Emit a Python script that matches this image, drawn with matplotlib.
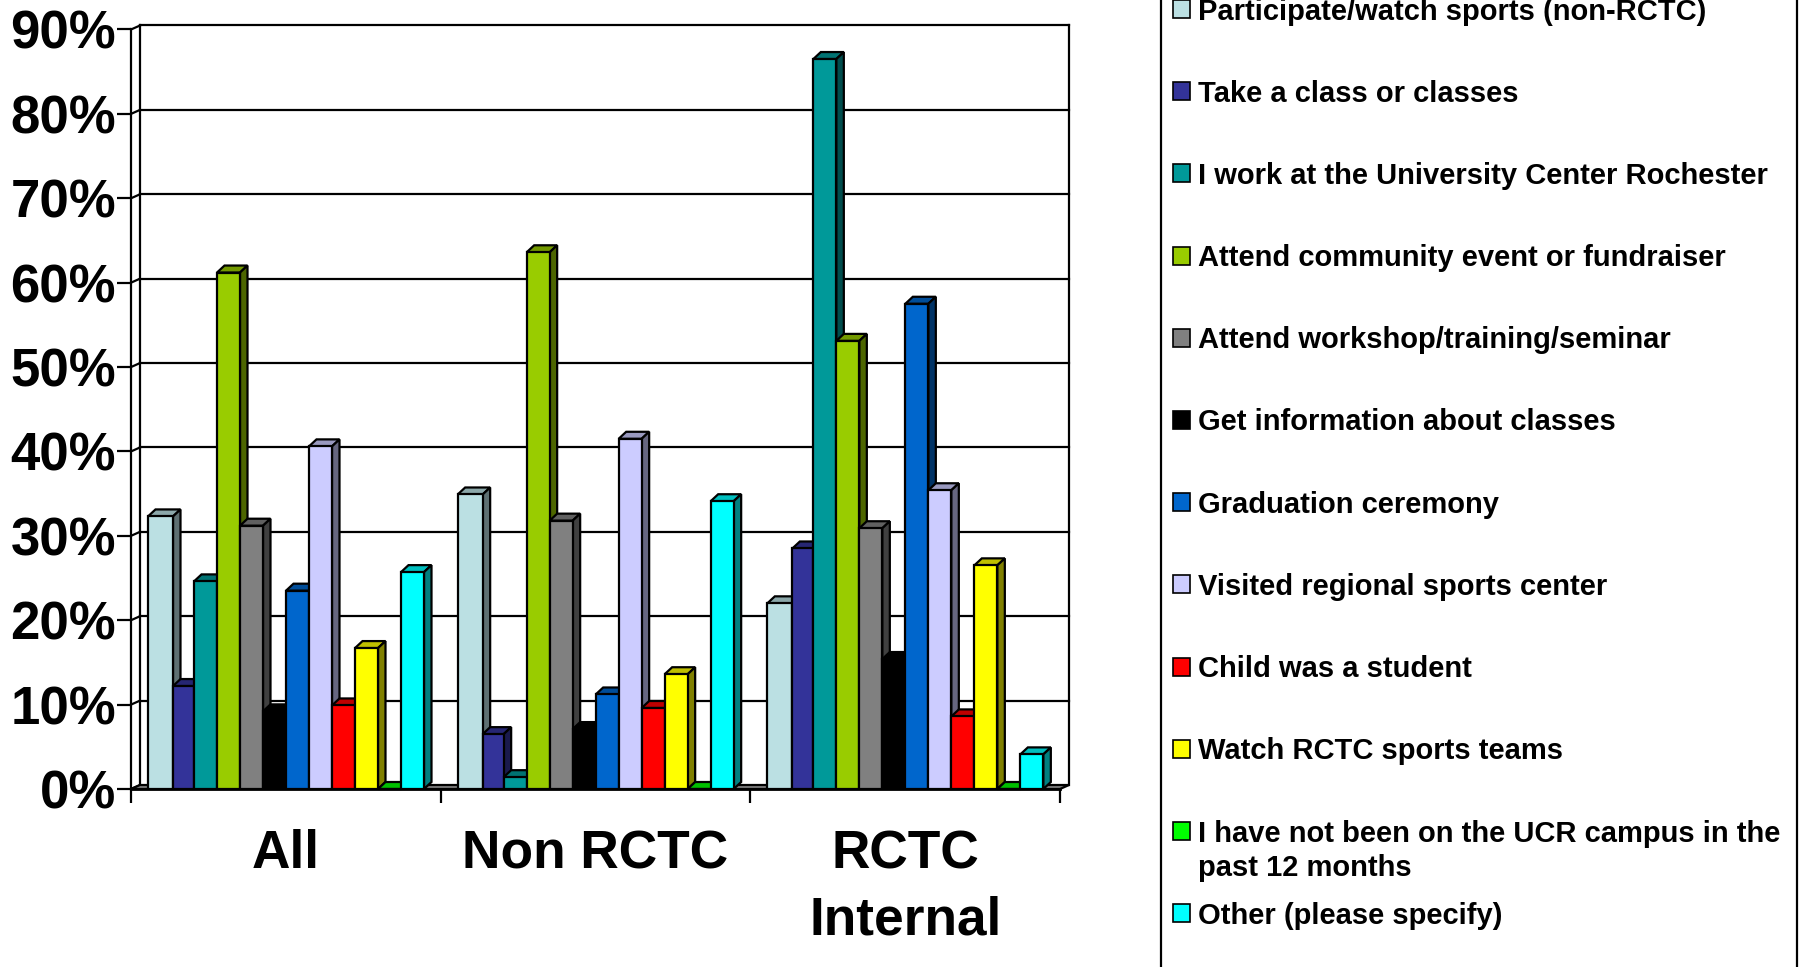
# -*- coding: utf-8 -*-
import numpy as np
import matplotlib
matplotlib.use('Agg')
import matplotlib.pyplot as plt
from matplotlib.patches import Polygon, Rectangle
from matplotlib.colors import to_rgb

plt.rcParams['font.family'] = ['Liberation Sans', 'DejaVu Sans']
plt.rcParams['font.weight'] = 'bold'

groups = ['All', 'Non RCTC', 'RCTC\nInternal']
series = ['Participate/watch sports (non-RCTC)',
          'Take a class or classes',
          'I work at the University Center Rochester',
          'Attend community event or fundraiser',
          'Attend workshop/training/seminar',
          'Get information about classes',
          'Graduation ceremony',
          'Visited regional sports center',
          'Child was a student',
          'Watch RCTC sports teams',
          'I have not been on the UCR campus in the\npast 12 months',
          'Other (please specify)']
colors = ['#BBE0E3', '#333399', '#009999', '#99CC00', '#808080', '#000000',
          '#0066CC', '#CCCCFF', '#FF0000', '#FFFF00', '#00FF00', '#00FFFF']

vals_all = [32.3, 12.2, 24.6, 61.2, 31.2, 9.2, 23.5, 40.6, 9.9, 16.7, 0, 25.7]
vals_non = [34.9, 6.5, 1.4, 63.6, 31.8, 7.1, 11.2, 41.5, 9.6, 13.6, 0, 34.1]
vals_int = [22.0, 28.5, 86.5, 53.1, 30.9, 15.4, 57.5, 35.4, 8.6, 26.5, 0, 4.1]
table = [vals_all, vals_non, vals_int]

y_ticks = [0, 10, 20, 30, 40, 50, 60, 70, 80, 90]
y_labels = ['0%', '10%', '20%', '30%', '40%', '50%', '60%', '70%', '80%', '90%']

W, H = 1811, 967
fig = plt.figure(figsize=(W / 100, H / 100), dpi=100)

# plot area in pixels: front wall 131..1060, 0% at 789, 90% at 29.5
ax = fig.add_axes([131 / W, 1 - 789 / H, (1060 - 131) / W, (789 - 29.5) / H])
ax.set_xlim(0, 3)
ax.set_ylim(0, 90)
ppx = 3 / (1060 - 131)      # data units per pixel in x
ppy = 90 / (789 - 29.5)     # and in y

lw = 1.6
wall_dx, wall_dy = 9 * ppx, 4 * ppy
bar_dx, bar_dy = 7.5 * ppx, 7 * ppy
gap, bar_w = 17 * ppx, 23 * ppx
first_extra = 2 * ppx       # the first bar of each group is a bit wider in the original


def shade(c, f):
    return tuple(v * f for v in to_rgb(c))


# walls and floor
for t in y_ticks[1:]:
    ax.plot([wall_dx, 3 + wall_dx], [t + wall_dy, t + wall_dy], color='k', lw=lw, zorder=1, clip_on=False)
for t in y_ticks:
    ax.plot([0, wall_dx], [t, t + wall_dy], color='k', lw=lw, zorder=1, clip_on=False)
ax.plot([wall_dx, wall_dx], [wall_dy, 90 + wall_dy], color='k', lw=lw, zorder=1, clip_on=False)
ax.plot([3 + wall_dx, 3 + wall_dx], [wall_dy, 90 + wall_dy], color='k', lw=lw, zorder=1, clip_on=False)
ax.add_patch(Polygon([(0, 0), (3, 0), (3 + wall_dx, wall_dy), (wall_dx, wall_dy)],
                     facecolor='#808080', edgecolor='k', lw=lw, zorder=1.5, clip_on=False))

# bars, left to right so each one hides the side of the one before
z = 2
for g, vals in enumerate(table):
    for s, v in enumerate(vals):
        x0 = g + gap + s * bar_w
        x1 = x0 + bar_w
        if s == 0:
            x1 += first_extra
        if s == 1:
            x0 += first_extra
        c = colors[s]
        ax.add_patch(Polygon([(x0, v), (x1, v), (x1 + bar_dx, v + bar_dy), (x0 + bar_dx, v + bar_dy)],
                             facecolor=shade(c, 0.75), edgecolor='k', lw=lw, zorder=z, clip_on=False))
        ax.add_patch(Polygon([(x1, 0), (x1 + bar_dx, bar_dy), (x1 + bar_dx, v + bar_dy), (x1, v)],
                             facecolor=shade(c, 0.5), edgecolor='k', lw=lw, zorder=z, clip_on=False))
        ax.bar(x0, v, x1 - x0, align='edge', color=c, edgecolor='k', linewidth=lw, zorder=z + 0.5)
        z += 1

for side in ['top', 'right']:
    ax.spines[side].set_visible(False)
ax.spines['left'].set_linewidth(lw)
ax.spines['bottom'].set_linewidth(2.0)
ax.spines['bottom'].set_zorder(200)
ax.patch.set_alpha(0)

ax.set_yticks(y_ticks)
ax.set_yticklabels(y_labels, fontsize=38, fontweight='bold')
ax.set_xticks([0, 1, 2, 3])
ax.set_xticklabels([])
ax.set_xticks([0.5, 1.5, 2.5], minor=True)
ax.set_xticklabels(groups, minor=True, fontsize=38.3, fontweight='bold', linespacing=1.42)
ax.tick_params(axis='y', length=10, width=lw, pad=0.8)
ax.tick_params(axis='x', which='major', length=10, width=lw)
ax.tick_params(axis='x', which='minor', length=0, pad=29)

# legend box runs off the top and bottom of the picture, so it is drawn by hand
lax = fig.add_axes([0, 0, 1, 1])
lax.set_xlim(0, W)
lax.set_ylim(H, 0)
lax.axis('off')
lax.patch.set_alpha(0)
lax.add_patch(Rectangle((1161, -20), 1797 - 1161, H + 40, facecolor='none', edgecolor='k', lw=lw))
for i, name in enumerate(series):
    yc = 9 + i * 82.2
    lax.add_patch(Rectangle((1172.5, yc - 9), 17, 18, facecolor=colors[i], edgecolor='k', lw=1.2))
    lax.text(1198, yc - 11.5, name, fontsize=21, fontweight='bold', va='top', ha='left',
             linespacing=1.3, color='k')

fig.savefig('out.png', dpi=100)
